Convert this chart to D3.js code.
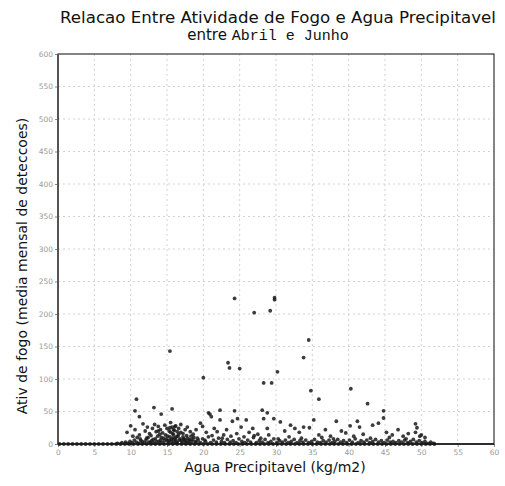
<!DOCTYPE html>
<html>
<head>
<meta charset="utf-8">
<script src="https://cdn.jsdelivr.net/npm/d3@7"></script>
<style>
  body { margin: 0; background: #fff; }
</style>
</head>
<body>
<div id="chart"></div>
<script>
// ticks
var xTicks = [0, 5, 10, 15, 20, 25, 30, 35, 40, 45, 50, 55, 60];
var yTicks = [0, 50, 100, 150, 200, 250, 300, 350, 400, 450, 500, 550, 600];

// agua precipitavel (kg/m2) e ativ de fogo
var aguaZero = [0.2,0.8,1.4,2.0,2.6,3.2,3.8,4.4,5.0,5.6,6.2,6.8,7.4,8.0,8.6,9.2,9.8,10.4,11.0,11.6,12.2,12.8,13.4,14.0,14.6,15.2,15.8,16.4,17.0,17.6,18.2,18.8,19.4,20.0,20.6,21.2,21.8,22.4,23.0,23.6,24.2,24.8,25.4,26.0,26.6,27.2,27.8,28.4,29.0,29.6,30.2,30.8,31.4,32.0,32.6,33.2,33.8,34.4,35.0,35.6,36.2,36.8,37.4,38.0,38.6,39.2,39.8,40.4,41.0,41.6,42.2,42.8,43.4,44.0,44.6,45.2,45.8,46.4,47.0,47.6,48.2,48.8,49.4,50.0,50.6,51.2,51.8];

var aguaBaixo = [8.2,8.8,9.3,9.6,9.9,10.2,10.5,10.8,11.1,11.3,11.6,11.9,12.1,12.4,12.7,12.9,13.2,13.4,13.7,13.9,14.1,14.3,14.5,14.8,15.0,15.2,15.4,15.6,15.8,16.0,16.1,16.3,16.5,16.7,16.9,17.1,17.3,17.5,17.7,17.9,18.1,18.4,18.7,19.0,19.3,19.6,19.9,20.3,20.7,21.0,21.4,21.8,22.1,22.5,22.9,23.3,23.7,24.1,24.5,24.9,25.3,25.7,26.1,26.5,26.9,27.3,27.7,28.1,28.5,28.9,29.3,29.7,30.1,30.5,30.9,31.3,31.7,32.1,32.5,32.9,33.3,33.7,34.1,34.5,34.9,35.3,35.7,36.1,36.5,36.9,37.3,37.7,38.1,38.5,38.9,39.3,39.7,40.1,40.5,40.9,41.3,41.7,42.1,42.5,42.9,43.3,43.7,44.1,44.5,44.9,45.3,45.7,46.1,46.5,46.9,47.3,47.7,48.1,48.5,48.9,49.3,49.7,50.1,50.5,50.9,51.3,51.7];
var fogoBaixo = [1,2,3,1,4,2,6,3,1,8,4,2,6,10,3,5,2,8,12,4,6,2,9,14,5,3,11,7,16,4,9,2,12,6,18,3,8,5,13,2,7,4,10,3,6,2,8,4,11,2,6,3,9,4,2,7,3,5,2,8,4,2,6,3,10,2,5,3,7,2,4,8,2,5,3,6,2,4,7,2,5,3,6,2,4,7,3,2,5,3,6,2,4,7,3,5,2,6,3,8,2,5,3,6,2,4,7,3,5,2,6,3,4,2,5,3,6,2,4,7,3,5,2,4,1,3,1];

var aguaDenso = [12.5,13.1,13.6,14.2,14.6,14.9,15.1,15.3,15.5,15.6,15.8,15.9,16.0,16.2,16.3,16.4,16.6,16.8,17.0,17.2,17.4,17.6,17.8,18.0,18.3,18.5,18.9,19.2,15.4,16.1,14.0,13.8,12.8,12.2,11.4,10.9,10.3,20.2,21.2,22.6,23.8,24.6,25.6,27.0,27.9,29.0,30.3,31.8,33.5,36.3,37.9,40.7,43.0,45.6,47.9,49.8];
var fogoDenso = [3,7,4,10,5,8,12,6,18,4,9,14,21,6,11,3,15,8,5,11,7,3,9,5,12,7,4,9,25,27,15,20,13,9,5,10,12,6,13,9,12,16,11,13,9,14,8,11,9,10,8,12,9,10,8,12];

var aguaMedio = [9.5,10.0,10.6,11.2,11.7,12.0,12.3,12.6,13.0,13.3,13.5,13.8,14.1,14.4,14.7,15.0,15.3,15.5,15.7,15.9,16.2,16.4,16.6,16.9,17.2,17.5,17.8,18.2,18.6,19.0,19.6,19.9,20.4,20.9,21.1,21.5,21.9,22.3,22.8,23.2,24.0,24.7,25.2,25.9,26.3,26.8,27.5,28.3,28.8,29.7,30.6,31.2,32.0,32.6,33.2,33.8,34.6,35.2,35.9,36.8,37.5,38.3,39.0,39.6,40.2,41.2,41.5,42.0,43.3,44.1,44.8,45.2,46.0,46.8,47.5,48.2,49.2,49.2,49.4,50.0,50.5];
var fogoMedio = [18,28,22,14,31,20,26,16,24,30,19,27,22,17,29,24,20,33,26,22,28,19,24,30,16,22,26,19,15,22,32,27,18,46,42,24,19,37,14,22,35,39,26,37,18,24,15,39,24,39,34,20,29,24,18,26,25,37,14,22,12,35,20,17,28,35,26,15,29,32,40,18,14,22,12,16,18,31,25,14,10];

var aguaAlto = [10.8,10.6,11.2,13.2,14.2,15.7,20.7,22.3,24.3,28.1,28.8,34.8,35.9,40.3,42.6,44.8,28.3,29.4,20.0,15.4,23.4,23.6,25.0,24.3,29.8,29.8,27.0,29.2,34.5,33.8,30.2];
var fogoAlto = [69,51,42,56,46,54,48,52,51,52,48,82,69,85,62,51,94,94,102,143,125,117,116,224,222,225,202,205,160,133,111];

var svg = d3.select("#chart")
    .append("svg")
    .attr("width", 505)
    .attr("height", 486);

var plotL = 58, plotR = 494, plotT = 54, plotB = 444;

var x = d3.scaleLinear().domain([0, 60]).range([plotL, plotR]);
var y = d3.scaleLinear().domain([0, 600]).range([plotB, plotT]);

// grade pontilhada
svg.append("g")
    .selectAll("line")
    .data(xTicks.slice(1, -1))
    .enter().append("line")
    .attr("x1", d => x(d)).attr("x2", d => x(d))
    .attr("y1", plotT).attr("y2", plotB)
    .style("stroke", "#d2d2d2")
    .style("stroke-dasharray", "2,3");

svg.append("g")
    .selectAll("line")
    .data(yTicks.slice(1, -1))
    .enter().append("line")
    .attr("x1", plotL).attr("x2", plotR)
    .attr("y1", d => y(d)).attr("y2", d => y(d))
    .style("stroke", "#d2d2d2")
    .style("stroke-dasharray", "2,3");

// eixos
var xAxis = svg.append("g")
    .attr("transform", "translate(0," + plotB + ")")
    .call(d3.axisBottom(x).tickValues(xTicks).tickSize(3).tickFormat(d3.format("d")));
var yAxis = svg.append("g")
    .attr("transform", "translate(" + plotL + ",0)")
    .call(d3.axisLeft(y).tickValues(yTicks).tickSize(3).tickFormat(d3.format("d")));

[xAxis, yAxis].forEach(function (a) {
    a.select(".domain").remove();
    a.selectAll("line").style("stroke", "#888");
    a.selectAll("text")
        .style("font-family", "DejaVu Sans, sans-serif")
        .style("font-size", "7.5px")
        .style("fill", "#999");
});
yAxis.selectAll("text").attr("x", -5);
xAxis.selectAll("text").attr("y", 6);

// moldura
svg.append("rect")
    .attr("x", plotL).attr("y", plotT)
    .attr("width", plotR - plotL).attr("height", plotB - plotT)
    .style("fill", "none")
    .style("stroke", "#333")
    .style("stroke-width", 1.2);
svg.append("line")
    .attr("x1", plotL).attr("x2", plotL).attr("y1", plotT).attr("y2", plotB)
    .style("stroke", "#555").style("stroke-width", 2);
svg.append("line")
    .attr("x1", plotL).attr("x2", plotR).attr("y1", plotB).attr("y2", plotB)
    .style("stroke", "#111").style("stroke-width", 1.5);

// pontos
var pontos = svg.append("g");
function desenha(xs, ys) {
    pontos.selectAll(null)
        .data(xs.map((v, i) => [v, ys ? ys[i] : 0]))
        .enter().append("circle")
        .attr("cx", d => x(d[0]))
        .attr("cy", d => y(d[1]))
        .attr("r", 1.9)
        .style("fill", "#1a1a1a")
        .style("fill-opacity", 0.85);
}
desenha(aguaZero, null);
desenha(aguaBaixo, fogoBaixo);
desenha(aguaDenso, fogoDenso);
desenha(aguaMedio, fogoMedio);
desenha(aguaAlto, fogoAlto);

// titulos
svg.append("text")
    .attr("x", 278)
    .attr("y", 23)
    .attr("text-anchor", "middle")
    .attr("textLength", 436)
    .attr("lengthAdjust", "spacingAndGlyphs")
    .text("Relacao Entre Atividade de Fogo e Agua Precipitavel")
    .style("font-family", "DejaVu Sans, sans-serif")
    .style("font-size", "15px")
    .style("fill", "#111");

var t2 = svg.append("text")
    .attr("x", 268)
    .attr("y", 40)
    .attr("text-anchor", "middle")
    .style("font-size", "15px")
    .style("fill", "#111");
t2.append("tspan").text("entre ").style("font-family", "DejaVu Sans, sans-serif");
t2.append("tspan").text("Abril e Junho").style("font-family", "Liberation Mono, monospace");

svg.append("text")
    .attr("x", 275)
    .attr("y", 472)
    .attr("text-anchor", "middle")
    .text("Agua Precipitavel (kg/m2)")
    .style("font-family", "DejaVu Sans, sans-serif")
    .style("font-size", "14px")
    .style("fill", "#111");

svg.append("text")
    .attr("transform", "translate(27,266) rotate(-90)")
    .attr("text-anchor", "middle")
    .text("Ativ de fogo (media mensal de deteccoes)")
    .style("font-family", "DejaVu Sans, sans-serif")
    .style("font-size", "14px")
    .style("fill", "#111");
</script>
</body>
</html>
